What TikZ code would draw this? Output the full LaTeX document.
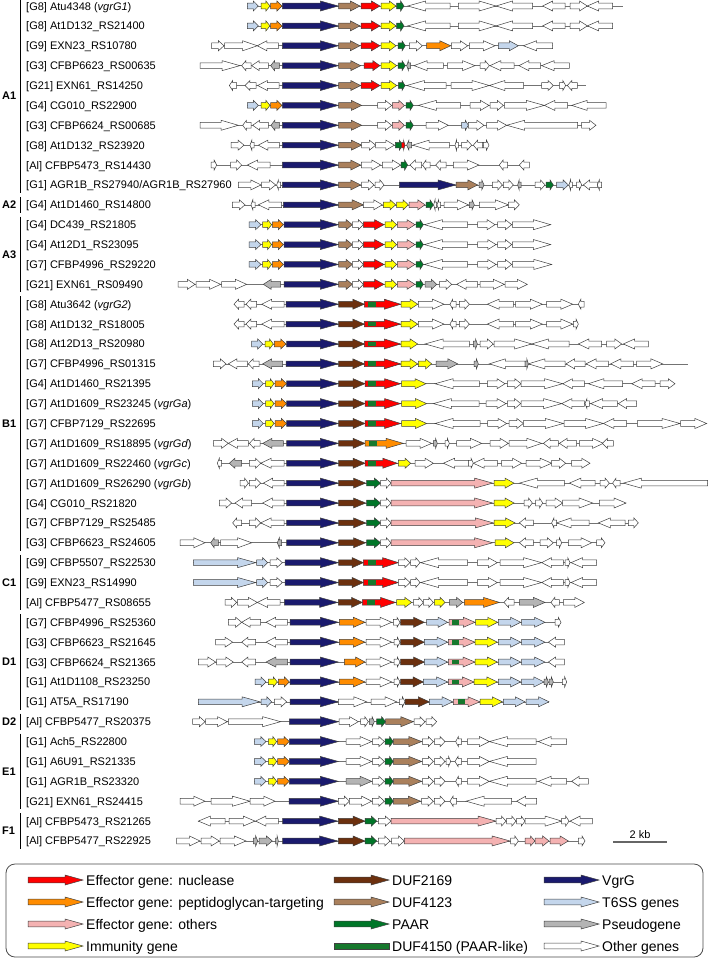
\documentclass[tikz,border=0pt]{standalone}
\usepackage{fontspec}
\setmainfont{Liberation Sans}
\definecolor{nuc}{RGB}{255,0,0}
\definecolor{pgt}{RGB}{255,140,0}
\definecolor{oth}{RGB}{244,178,178}
\definecolor{imm}{RGB}{255,255,0}
\definecolor{d69}{RGB}{108,48,14}
\definecolor{d23}{RGB}{170,128,92}
\definecolor{paar}{RGB}{0,118,40}
\definecolor{d50}{RGB}{22,120,45}
\definecolor{vgr}{RGB}{26,26,110}
\definecolor{tss}{RGB}{196,214,236}
\definecolor{psd}{RGB}{180,180,180}
\definecolor{wht}{RGB}{255,255,255}
\tikzset{
  genebox/.style={draw=black!75,line width=0.5pt,line join=miter},
  bbline/.style={draw=black!55,line width=0.6pt},
  lbl/.style={anchor=base west,inner sep=0pt,font=\fontsize{11}{13}\selectfont},
  glbl/.style={anchor=west,inner sep=0pt,font=\fontsize{11}{13}\selectfont\bfseries},
  leg/.style={anchor=base west,inner sep=0pt,font=\fontsize{14}{16}\selectfont}
}
\newcommand\garw[3]{%
  \pgfmathsetmacro\xa{#1}\pgfmathsetmacro\xb{#2}%
  \pgfmathsetmacro\gl{abs(\xb-\xa)}%
  \pgfmathsetmacro\gh{min(18,0.45*\gl)}%
  \pgfmathsetmacro\gs{(\xb>\xa)?1:-1}%
  \pgfmathsetmacro\gm{\xb-\gs*\gh}%
  \filldraw[genebox,fill=#3] (\xa,\ry-2.8) -- (\gm,\ry-2.8) -- (\gm,\ry-5) -- (\xb,\ry) -- (\gm,\ry+5) -- (\gm,\ry+2.8) -- (\xa,\ry+2.8) -- cycle;}
\newcommand\gx[3]{\pgfmathsetmacro\ta{190+(#1)/3}\pgfmathsetmacro\tb{190+(#2)/3}\garw{\ta}{\tb}{#3}}
\newcommand\gbd[3]{\fill[#3] ({190+(#1)/3},\ry-2.4) rectangle ({190+(#2)/3},\ry+2.4);}
\newcommand\bln[2]{\draw[bbline] ({190+(#1)/3},\ry) -- ({190+(#2)/3},\ry);}
\newcommand\rw[2]{\pgfmathsetmacro\ry{6+(#1-1)*19.88}\node[lbl] at (26,\ry+4) {#2};}
\newcommand\grp[3]{\pgfmathsetmacro\ya{6+(#1-1)*19.88-8}\pgfmathsetmacro\yb{6+(#2-1)*19.88+8}%
  \draw[line width=1pt] (20,\ya) -- (20,\yb);
  \node[glbl] at (2,{(\ya+\yb)/2}) {#3};}
\newcommand\lgd[4]{\def\ry{#2}\garw{#1}{#1+55}{#3}\node[leg] at (#1+58,#2+5) {#4};}
\begin{document}
\begin{tikzpicture}[x=1pt,y=-1pt]
\useasboundingbox (0,0) rectangle (709,962);
\fill[white] (0,0) rectangle (709,962);
% groups
\grp{1}{10}{A1}\grp{11}{11}{A2}\grp{12}{15}{A3}\grp{16}{28}{B1}\grp{29}{31}{C1}
\grp{32}{36}{D1}\grp{37}{37}{D2}\grp{38}{41}{E1}\grp{42}{43}{F1}
% row 1
\rw{1}{[G8] Atu4348 (\textit{vgrG1})}\bln{172}{1300}
\gx{172}{205}{tss}\gx{213}{240}{imm}\gx{242}{276}{pgt}\gx{277}{445}{vgr}\gx{446}{510}{d23}\gx{513}{570}{nuc}\gx{573}{618}{imm}\gx{620}{642}{paar}\gx{780}{653}{wht}\gx{805}{918}{wht}\gx{1028}{918}{wht}\gx{1125}{1058}{wht}\gx{1140}{1192}{wht}\gx{1268}{1192}{wht}
% row 2
\rw{2}{[G8] At1D132\_RS21400}\bln{172}{1268}
\gx{172}{205}{tss}\gx{213}{240}{imm}\gx{242}{276}{pgt}\gx{277}{445}{vgr}\gx{446}{510}{d23}\gx{513}{570}{nuc}\gx{573}{618}{imm}\gx{620}{642}{paar}\gx{780}{653}{wht}\gx{805}{918}{wht}\gx{1028}{918}{wht}\gx{1125}{1058}{wht}\gx{1140}{1192}{wht}\gx{1268}{1192}{wht}
% row 3
\rw{3}{[G9] EXN23\_RS10780}\bln{65}{1088}
\gx{65}{102}{wht}\gx{104}{202}{wht}\gx{265}{202}{wht}\gx{277}{445}{vgr}\gx{446}{510}{d23}\gx{513}{570}{nuc}\gx{573}{618}{imm}\gx{624}{646}{paar}\gx{658}{697}{wht}\gx{710}{782}{pgt}\gx{784}{833}{wht}\gx{838}{915}{wht}\gx{925}{985}{tss}\gx{1088}{1000}{wht}
% row 4
\rw{4}{[G3] CFBP6623\_RS00635}\bln{30}{1138}
\gx{30}{150}{wht}\gx{183}{155}{wht}\gx{235}{185}{wht}\gx{268}{242}{psd}\gx{277}{445}{vgr}\gx{446}{512}{d23}\gx{522}{570}{nuc}\gx{573}{620}{imm}\gx{624}{646}{paar}\gx{662}{650}{psd}\gx{760}{672}{wht}\gx{772}{855}{wht}\gx{870}{898}{wht}\gx{972}{900}{wht}\gx{1052}{987}{wht}\gx{1138}{1055}{wht}
% row 5
\rw{5}{[G21] EXN61\_RS14250}\bln{118}{1187}
\gx{140}{118}{wht}\gx{198}{165}{wht}\gx{267}{203}{wht}\gx{277}{445}{vgr}\gx{446}{512}{d23}\gx{513}{570}{nuc}\gx{573}{620}{imm}\gx{625}{645}{paar}\gx{768}{650}{wht}\gx{783}{898}{wht}\gx{1001}{898}{wht}\gx{1055}{1090}{wht}\gx{1108}{1127}{wht}\gx{1162}{1132}{wht}
% row 6
\rw{6}{[G4] CG010\_RS22900}\bln{172}{1248}
\gx{172}{205}{tss}\gx{213}{240}{imm}\gx{242}{276}{pgt}\gx{277}{445}{vgr}\gx{446}{515}{d23}\gx{563}{605}{wht}\gx{607}{643}{oth}\gx{648}{670}{paar}\gx{812}{685}{wht}\gx{840}{897}{wht}\gx{900}{940}{wht}\gx{943}{1063}{wht}\gx{1133}{1063}{wht}\gx{1248}{1145}{wht}
% row 7
\rw{7}{[G3] CFBP6624\_RS00685}\bln{30}{1218}
\gx{30}{145}{wht}\gx{183}{158}{wht}\gx{235}{188}{wht}\gx{268}{243}{psd}\gx{277}{445}{vgr}\gx{446}{515}{d23}\gx{563}{605}{wht}\gx{607}{643}{oth}\gx{648}{670}{paar}\gx{708}{775}{wht}\gx{815}{835}{tss}\gx{835}{882}{wht}\gx{890}{950}{wht}\gx{1163}{950}{wht}\gx{1175}{1218}{wht}
% row 8
\rw{8}{[G8] At1D132\_RS23920}\bln{123}{897}
\gx{123}{162}{wht}\gx{192}{180}{wht}\gx{268}{205}{wht}\gx{277}{445}{vgr}\gx{446}{515}{d23}\gx{515}{557}{wht}\gx{557}{613}{wht}\gx{616}{638}{paar}\gx{635}{645}{nuc}\gx{665}{650}{psd}\gx{778}{668}{wht}\gx{805}{795}{wht}\gx{815}{845}{wht}\gx{878}{850}{wht}\gx{880}{897}{wht}
% row 9
\rw{9}{[Al] CFBP5473\_RS14430}\bln{63}{1018}
\gx{63}{80}{wht}\gx{122}{155}{wht}\gx{240}{172}{wht}\gx{277}{445}{vgr}\gx{446}{512}{d23}\gx{514}{572}{wht}\gx{577}{632}{wht}\gx{633}{653}{paar}\gx{695}{660}{wht}\gx{720}{698}{wht}\gx{768}{737}{wht}\gx{790}{867}{wht}\gx{953}{928}{wht}\gx{1018}{988}{wht}
% row 10
\rw{10}{[G1] AGR1B\_RS27940/AGR1B\_RS27960}\bln{145}{1235}
\gx{145}{213}{wht}\gx{215}{257}{wht}\gx{272}{260}{wht}\gx{277}{445}{vgr}\gx{446}{512}{d23}\gx{515}{552}{wht}\gx{555}{582}{wht}\gx{628}{798}{vgr}\gx{798}{863}{d23}\gx{867}{882}{psd}\gx{907}{937}{wht}\gx{940}{970}{wht}\gx{993}{983}{psd}\gx{1035}{1065}{wht}\gx{1068}{1090}{paar}\gx{1100}{1135}{tss}\gx{1147}{1137}{wht}\gx{1160}{1175}{wht}\gx{1222}{1180}{wht}\gx{1235}{1222}{wht}
% row 11
\rw{11}{[G4] At1D1460\_RS14800}\bln{127}{988}
\gx{127}{165}{wht}\gx{195}{183}{wht}\gx{275}{205}{wht}\gx{280}{445}{vgr}\gx{446}{520}{d23}\gx{520}{577}{wht}\gx{580}{617}{imm}\gx{620}{655}{imm}\gx{657}{705}{oth}\gx{708}{730}{paar}\gx{740}{731}{wht}\gx{752}{741}{wht}\gx{762}{835}{wht}\gx{838}{853}{psd}\gx{868}{955}{wht}\gx{955}{988}{wht}
% rows 12-14
\rw{12}{[G4] DC439\_RS21805}\bln{177}{1082}
\gx{177}{213}{tss}\gx{218}{245}{imm}\gx{247}{280}{pgt}\gx{282}{445}{vgr}\gx{446}{487}{d23}\gx{487}{520}{wht}\gx{520}{582}{nuc}\gx{585}{620}{imm}\gx{622}{675}{oth}\gx{678}{700}{paar}\gx{833}{703}{wht}\gx{863}{915}{wht}\gx{923}{965}{wht}\gx{967}{1082}{wht}
\rw{13}{[G4] At12D1\_RS23095}\bln{177}{1082}
\gx{177}{213}{tss}\gx{218}{245}{imm}\gx{247}{280}{pgt}\gx{282}{445}{vgr}\gx{446}{487}{d23}\gx{487}{520}{wht}\gx{520}{582}{nuc}\gx{585}{620}{imm}\gx{622}{675}{oth}\gx{678}{700}{paar}\gx{833}{703}{wht}\gx{863}{918}{wht}\gx{923}{965}{wht}\gx{967}{1082}{wht}
\rw{14}{[G7] CFBP4996\_RS29220}\bln{177}{1085}
\gx{177}{213}{tss}\gx{218}{245}{imm}\gx{247}{280}{pgt}\gx{282}{445}{vgr}\gx{446}{487}{d23}\gx{487}{520}{wht}\gx{520}{582}{nuc}\gx{585}{620}{imm}\gx{622}{675}{oth}\gx{678}{700}{paar}\gx{833}{703}{wht}\gx{863}{918}{wht}\gx{923}{965}{wht}\gx{967}{1085}{wht}
% row 15
\rw{15}{[G21] EXN61\_RS09490}\bln{-36}{1012}
\gx{-36}{15}{wht}\gx{18}{92}{wht}\gx{95}{170}{wht}\gx{272}{220}{psd}\gx{282}{445}{vgr}\gx{446}{487}{d23}\gx{487}{520}{wht}\gx{520}{582}{nuc}\gx{585}{620}{imm}\gx{622}{675}{oth}\gx{678}{700}{paar}\gx{705}{740}{psd}\gx{748}{785}{wht}\gx{863}{800}{wht}\gx{870}{943}{wht}\gx{945}{1012}{wht}
% row 16
\rw{16}{[G8] Atu3642 (\textit{vgrG2})}\bln{132}{1182}
\gx{162}{132}{wht}\gx{200}{168}{wht}\gx{282}{215}{wht}\gx{288}{445}{vgr}\gx{446}{523}{d69}\gx{523}{632}{nuc}\gbd{533}{557}{d50}\gx{633}{683}{imm}\gx{685}{762}{wht}\gx{798}{780}{wht}\gx{808}{838}{wht}\gx{970}{892}{wht}\gx{977}{1057}{wht}\gx{1070}{1148}{wht}\gx{1182}{1165}{wht}
% row 17
\rw{17}{[G8] At1D132\_RS18005}\bln{132}{1165}
\gx{162}{132}{wht}\gx{200}{168}{wht}\gx{282}{215}{wht}\gx{288}{445}{vgr}\gx{446}{523}{d69}\gx{523}{632}{nuc}\gbd{533}{557}{d50}\gx{633}{683}{imm}\gx{685}{762}{wht}\gx{798}{780}{wht}\gx{808}{838}{wht}\gx{970}{892}{wht}\gx{977}{1057}{wht}\gx{1070}{1148}{wht}\gx{1150}{1165}{wht}
% row 18
\rw{18}{[G8] At12D13\_RS20980}\bln{185}{1375}
\gx{185}{218}{tss}\gx{225}{250}{imm}\gx{253}{288}{pgt}\gx{290}{445}{vgr}\gx{446}{523}{d69}\gx{523}{632}{nuc}\gbd{533}{557}{d50}\gx{633}{683}{imm}\gx{838}{705}{wht}\gx{850}{862}{psd}\gx{870}{910}{wht}\gx{912}{1025}{wht}\gx{1137}{1025}{wht}\gx{1235}{1165}{wht}\gx{1250}{1295}{wht}\gx{1375}{1300}{wht}
% row 19
\rw{19}{[G7] CFBP4996\_RS01315}\bln{70}{1495}
\gx{70}{108}{wht}\gx{172}{115}{wht}\gx{207}{175}{wht}\gx{278}{218}{psd}\gx{288}{445}{vgr}\gx{446}{523}{d69}\gx{523}{632}{nuc}\gbd{533}{557}{d50}\gx{633}{683}{imm}\gx{685}{725}{imm}\gx{738}{803}{psd}\gx{852}{865}{psd}\gx{1005}{898}{wht}\gx{1005}{1015}{psd}\gx{1125}{1015}{wht}\gx{1185}{1128}{wht}\gx{1255}{1188}{wht}\gx{1330}{1262}{wht}\gx{1340}{1418}{wht}
% row 20
\rw{20}{[G4] At1D1460\_RS21395}\bln{187}{1455}
\gx{187}{220}{tss}\gx{227}{252}{imm}\gx{255}{290}{pgt}\gx{290}{445}{vgr}\gx{446}{525}{d69}\gx{525}{632}{nuc}\gbd{535}{559}{d50}\gx{635}{708}{imm}\gx{868}{735}{wht}\gx{892}{945}{wht}\gx{952}{993}{wht}\gx{993}{1118}{wht}\gx{1183}{1118}{wht}\gx{1298}{1195}{wht}\gx{1395}{1325}{wht}\gx{1410}{1455}{wht}
% row 21
\rw{21}{[G7] At1D1609\_RS23245 (\textit{vgrGa})}\bln{187}{1340}
\gx{187}{220}{tss}\gx{227}{252}{imm}\gx{255}{290}{pgt}\gx{290}{445}{vgr}\gx{446}{525}{d69}\gx{525}{632}{nuc}\gbd{535}{559}{d50}\gx{635}{710}{imm}\gx{867}{730}{wht}\gx{888}{948}{wht}\gx{952}{992}{wht}\gx{993}{1115}{wht}\gx{1183}{1115}{wht}\gx{1198}{1185}{wht}\gx{1282}{1202}{wht}\gx{1340}{1285}{wht}
% row 22
\rw{22}{[G7] CFBP7129\_RS22695}\bln{187}{1550}
\gx{187}{220}{tss}\gx{227}{252}{imm}\gx{255}{290}{pgt}\gx{290}{445}{vgr}\gx{446}{525}{d69}\gx{525}{632}{nuc}\gbd{535}{559}{d50}\gx{635}{710}{imm}\gx{870}{735}{wht}\gx{893}{950}{wht}\gx{957}{1000}{wht}\gx{1000}{1120}{wht}\gx{1122}{1240}{wht}\gx{1310}{1240}{wht}\gx{1342}{1470}{wht}\gx{1472}{1550}{wht}
% row 23
\rw{23}{[G7] At1D1609\_RS18895 (\textit{vgrGd})}\bln{70}{1270}
\gx{70}{115}{wht}\gx{175}{115}{wht}\gx{210}{178}{wht}\gx{280}{218}{psd}\gx{290}{445}{vgr}\gx{446}{525}{d69}\gx{525}{640}{pgt}\gbd{538}{560}{d50}\gx{648}{725}{wht}\gx{730}{742}{psd}\gx{765}{778}{wht}\gx{800}{875}{wht}\gx{900}{955}{wht}\gx{957}{1055}{wht}\gx{1105}{1060}{wht}\gx{1160}{1108}{wht}\gx{1168}{1240}{wht}\gx{1270}{1237}{wht}
% row 24
\rw{24}{[G7] At1D1609\_RS22460 (\textit{vgrGc})}\bln{82}{1200}
\gx{95}{82}{wht}\gx{155}{118}{psd}\gx{178}{212}{wht}\gx{282}{212}{wht}\gx{290}{445}{vgr}\gx{446}{525}{d69}\gx{525}{622}{nuc}\gbd{535}{559}{d50}\gx{625}{662}{imm}\gx{675}{730}{wht}\gx{835}{760}{wht}\gx{835}{850}{wht}\gx{922}{850}{wht}\gx{935}{995}{wht}\gx{1008}{1085}{wht}\gx{1085}{1127}{wht}\gx{1145}{1200}{wht}
% row 25
\rw{25}{[G7] At1D1609\_RS26290 (\textit{vgrGb})}\bln{150}{1553}
\gx{150}{175}{wht}\gx{178}{212}{wht}\gx{282}{220}{wht}\gx{290}{445}{vgr}\gx{446}{527}{d69}\gx{530}{572}{paar}\gx{572}{603}{wht}\gx{603}{908}{oth}\gx{912}{972}{imm}\gx{1123}{988}{wht}\gx{1215}{1138}{wht}\gx{1230}{1258}{wht}\gx{1290}{1268}{wht}\gx{1553}{1300}{wht}
% row 26
\rw{26}{[G4] CG010\_RS21820}\bln{88}{1308}
\gx{88}{125}{wht}\gx{185}{135}{wht}\gx{282}{218}{wht}\gx{290}{445}{vgr}\gx{446}{527}{d69}\gx{530}{572}{paar}\gx{572}{603}{wht}\gx{603}{908}{oth}\gx{912}{972}{imm}\gx{1002}{1027}{wht}\gx{1037}{1058}{wht}\gx{1068}{1118}{wht}\gx{1118}{1208}{wht}\gx{1228}{1308}{wht}
% row 27
\rw{27}{[G7] CFBP7129\_RS25485}\bln{128}{1345}
\gx{155}{128}{wht}\gx{178}{212}{wht}\gx{282}{212}{wht}\gx{290}{445}{vgr}\gx{446}{527}{d69}\gx{530}{572}{paar}\gx{572}{603}{wht}\gx{603}{910}{oth}\gx{912}{975}{imm}\gx{1030}{988}{wht}\gx{1100}{1085}{wht}\gx{1197}{1100}{wht}\gx{1305}{1225}{wht}\gx{1315}{1345}{wht}
% row 28
\rw{28}{[G3] CFBP6623\_RS24605}\bln{-30}{1245}
\gx{-30}{45}{wht}\gx{85}{62}{psd}\gx{92}{185}{wht}\gx{275}{262}{psd}\gx{290}{445}{vgr}\gx{446}{527}{d69}\gx{530}{572}{paar}\gx{572}{603}{wht}\gx{603}{908}{oth}\gx{915}{972}{imm}\gx{1030}{988}{wht}\gx{1050}{1090}{wht}\gx{1100}{1115}{wht}\gx{1135}{1205}{wht}\gx{1220}{1245}{wht}
% rows 29-30
\rw{29}{[G9] CFBP5507\_RS22530}\bln{10}{1220}
\gx{10}{197}{tss}\gx{200}{233}{tss}\gx{240}{277}{wht}\gx{285}{445}{vgr}\gx{446}{520}{d69}\gx{520}{625}{nuc}\gbd{533}{557}{d50}\gx{625}{660}{wht}\gx{662}{690}{wht}\gx{833}{692}{wht}\gx{862}{922}{wht}\gx{930}{1055}{wht}\gx{1120}{1055}{wht}\gx{1125}{1140}{wht}\gx{1220}{1143}{wht}
\rw{30}{[G9] EXN23\_RS14990}\bln{10}{1220}
\gx{10}{197}{tss}\gx{200}{233}{tss}\gx{240}{277}{wht}\gx{285}{445}{vgr}\gx{446}{520}{d69}\gx{520}{625}{nuc}\gbd{533}{557}{d50}\gx{625}{660}{wht}\gx{662}{690}{wht}\gx{833}{692}{wht}\gx{862}{922}{wht}\gx{930}{1055}{wht}\gx{1120}{1055}{wht}\gx{1125}{1140}{wht}\gx{1220}{1143}{wht}
% row 31
\rw{31}{[Al] CFBP5477\_RS08655}\bln{105}{1183}
\gx{105}{140}{wht}\gx{142}{202}{wht}\gx{270}{202}{wht}\gx{283}{443}{vgr}\gx{445}{517}{d69}\gx{517}{617}{nuc}\gbd{530}{555}{d50}\gx{620}{665}{imm}\gx{670}{700}{wht}\gx{700}{730}{wht}\gx{733}{765}{imm}\gx{778}{818}{psd}\gx{823}{928}{pgt}\gx{972}{942}{wht}\gx{988}{1065}{psd}\gx{1108}{1083}{wht}\gx{1120}{1183}{wht}
% row 32
\rw{32}{[G7] CFBP4996\_RS25360}\bln{115}{1113}
\gx{115}{155}{wht}\gx{212}{155}{wht}\gx{292}{228}{wht}\gx{300}{445}{vgr}\gx{448}{525}{pgt}\gx{528}{605}{wht}\gx{610}{630}{wht}\gx{632}{703}{d69}\gx{710}{773}{tss}\gx{777}{855}{oth}\gbd{787}{808}{d50}\gx{857}{923}{imm}\gx{925}{992}{tss}\gx{995}{1065}{tss}\gx{1095}{1113}{wht}
% row 33
\rw{33}{[G3] CFBP6623\_RS21645}\bln{77}{1123}
\gx{77}{128}{wht}\gx{197}{155}{wht}\gx{292}{228}{wht}\gx{300}{445}{vgr}\gx{448}{525}{pgt}\gx{528}{605}{wht}\gx{612}{630}{wht}\gx{632}{703}{d69}\gx{703}{773}{tss}\gx{775}{855}{oth}\gbd{787}{808}{d50}\gx{855}{922}{imm}\gx{925}{992}{tss}\gx{995}{1065}{tss}\gx{1123}{1075}{wht}
% row 34
\rw{34}{[G3] CFBP6624\_RS21365}\bln{25}{1123}
\gx{25}{77}{wht}\gx{80}{130}{wht}\gx{197}{155}{wht}\gx{293}{228}{psd}\gx{300}{445}{vgr}\gx{463}{525}{pgt}\gx{528}{605}{wht}\gx{612}{630}{wht}\gx{632}{703}{d69}\gx{703}{773}{tss}\gx{775}{855}{oth}\gbd{787}{808}{d50}\gx{855}{922}{imm}\gx{925}{992}{tss}\gx{995}{1065}{tss}\gx{1123}{1075}{wht}
% row 35
\rw{35}{[G1] At1D1108\_RS23250}\bln{195}{1130}
\gx{195}{228}{tss}\gx{235}{262}{imm}\gx{265}{298}{pgt}\gx{300}{445}{vgr}\gx{448}{525}{pgt}\gx{528}{605}{wht}\gx{612}{630}{wht}\gx{632}{700}{d69}\gx{700}{773}{tss}\gx{775}{852}{oth}\gbd{787}{808}{d50}\gx{852}{922}{imm}\gx{925}{992}{tss}\gx{995}{1062}{tss}\gx{1062}{1075}{psd}\gx{1077}{1090}{psd}\gx{1117}{1130}{wht}
% row 36
\rw{36}{[G1] AT5A\_RS17190}\bln{25}{1077}
\gx{25}{210}{tss}\gx{213}{245}{tss}\gx{253}{290}{wht}\gx{300}{445}{vgr}\gx{445}{530}{wht}\gx{543}{620}{wht}\gx{628}{645}{wht}\gx{645}{718}{d69}\gx{718}{788}{tss}\gx{790}{870}{oth}\gbd{803}{825}{d50}\gx{870}{937}{imm}\gx{940}{1005}{tss}\gx{1008}{1077}{tss}
% row 37
\rw{37}{[Al] CFBP5477\_RS20375}\bln{8}{740}
\gx{8}{45}{wht}\gx{47}{112}{wht}\gx{115}{272}{wht}\gx{298}{445}{vgr}\gx{447}{505}{wht}\gx{512}{535}{wht}\gx{538}{553}{psd}\gx{560}{587}{paar}\gx{587}{670}{d23}\gx{672}{705}{wht}\gx{708}{740}{wht}
% row 38
\rw{38}{[G1] Ach5\_RS22800}\bln{193}{1130}
\gx{193}{228}{tss}\gx{235}{260}{imm}\gx{263}{298}{pgt}\gx{298}{445}{vgr}\gx{468}{545}{wht}\gx{547}{583}{wht}\gx{585}{610}{paar}\gx{610}{695}{d23}\gx{697}{730}{wht}\gx{733}{765}{wht}\gx{815}{797}{wht}\gx{832}{898}{wht}\gx{1038}{898}{wht}\gx{1130}{1045}{wht}
% row 39
\rw{39}{[G1] A6U91\_RS21335}\bln{193}{1038}
\gx{193}{228}{tss}\gx{235}{260}{imm}\gx{263}{298}{pgt}\gx{298}{445}{vgr}\gx{468}{545}{wht}\gx{547}{583}{wht}\gx{585}{610}{paar}\gx{610}{695}{d23}\gx{697}{730}{wht}\gx{733}{765}{wht}\gx{768}{782}{wht}\gx{815}{795}{wht}\gx{832}{898}{wht}\gx{1038}{898}{wht}
% row 40
\rw{40}{[G1] AGR1B\_RS23320}\bln{193}{1195}
\gx{193}{228}{tss}\gx{235}{260}{imm}\gx{263}{298}{pgt}\gx{298}{445}{vgr}\gx{468}{545}{psd}\gx{547}{583}{wht}\gx{585}{610}{paar}\gx{610}{695}{d23}\gx{697}{730}{wht}\gx{733}{765}{wht}\gx{815}{797}{wht}\gx{832}{898}{wht}\gx{1038}{898}{wht}\gx{1130}{1045}{wht}\gx{1195}{1145}{wht}
% row 41
\rw{41}{[G21] EXN61\_RS24415}\bln{-30}{1040}
\gx{-30}{45}{wht}\gx{63}{180}{wht}\gx{180}{255}{wht}\gx{297}{445}{vgr}\gx{445}{478}{wht}\gx{478}{545}{wht}\gx{547}{583}{wht}\gx{585}{610}{paar}\gx{610}{692}{d23}\gx{695}{730}{wht}\gx{733}{765}{wht}\gx{800}{780}{wht}\gx{965}{828}{wht}\gx{1040}{980}{wht}
% row 42
\rw{42}{[Al] CFBP5473\_RS21265}\bln{25}{1207}
\gx{105}{25}{wht}\gx{117}{195}{wht}\gx{265}{197}{wht}\gx{278}{443}{vgr}\gx{445}{525}{d69}\gx{525}{560}{paar}\gx{565}{603}{wht}\gx{603}{918}{oth}\gx{918}{948}{wht}\gx{950}{978}{wht}\gx{980}{1005}{wht}\gx{1005}{1115}{wht}\gx{1115}{1137}{wht}\gx{1207}{1140}{wht}
% row 43
\rw{43}{[Al] CFBP5477\_RS22925}\bln{-40}{1185}
\gx{-40}{30}{wht}\gx{33}{88}{wht}\gx{90}{168}{wht}\gx{190}{203}{psd}\gx{207}{247}{psd}\gx{257}{265}{psd}\gx{278}{443}{vgr}\gx{445}{525}{d69}\gx{525}{560}{paar}\gx{565}{600}{wht}\gx{605}{643}{wht}\gx{643}{960}{oth}\gx{962}{985}{wht}\gx{1005}{1035}{oth}\gx{1035}{1077}{oth}\gx{1080}{1135}{oth}\gx{1165}{1185}{wht}
% scale bar
\draw[black!60,line width=1.5pt] (613,842) coordinate (sba) -- (667,842) coordinate (sbb);
\node[font=\fontsize{11}{13}\selectfont,anchor=base,inner sep=0pt] (sbt) at (640,838) {2 kb};
% legend
\draw[black!70,line width=0.8pt,rounded corners=9pt] (6,864) rectangle (703,957);
\lgd{28}{880}{nuc}{Effector gene: nuclease}
\lgd{28}{902}{pgt}{Effector gene: peptidoglycan-targeting}
\lgd{28}{924}{oth}{Effector gene: others}
\lgd{28}{946}{imm}{Immunity gene}
\lgd{334}{880}{d69}{DUF2169}
\lgd{334}{902}{d23}{DUF4123}
\lgd{334}{924}{paar}{PAAR}
\filldraw[genebox,fill=d50] (334,943.2) rectangle (389,948.8);
\node[leg] at (392,951) {DUF4150 (PAAR-like)};
\lgd{544}{880}{vgr}{VgrG}
\lgd{544}{902}{tss}{T6SS genes}
\lgd{544}{924}{psd}{Pseudogene}
\lgd{544}{946}{wht}{Other genes}
\end{tikzpicture}
\end{document}
